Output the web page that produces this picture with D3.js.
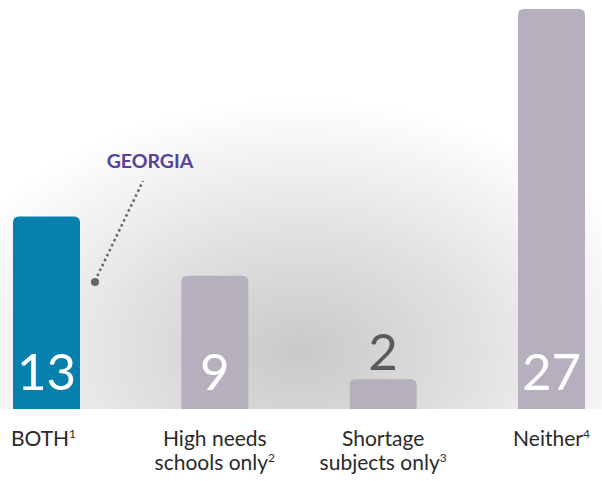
<!DOCTYPE html>
<html><head><meta charset="utf-8">
<script src="https://cdn.jsdelivr.net/npm/d3@7"></script>
<style>html,body{margin:0;padding:0;background:#fff}svg{display:block}</style>
</head><body>
<script>
const categories = ["BOTH", "High needs schools only", "Shortage subjects only", "Neither"];
const labelLines = [["BOTH"], ["High needs", "schools only"], ["Shortage", "subjects only"], ["Neither"]];
const footnotes = ["1", "2", "3", "4"];
const values = [13, 9, 2, 27];
const highlight = "BOTH";
const calloutText = "GEORGIA";

const W = 602, H = 481, baseY = 409;
const svg = d3.select("body").append("svg").attr("width", W).attr("height", H);
const defs = svg.append("defs");
const grad = defs.append("radialGradient").attr("id", "bg")
  .attr("cx", 0.5).attr("cy", 0.86).attr("r", 0.62).attr("fx", 0.5).attr("fy", 0.86);
grad.append("stop").attr("offset", "0").attr("stop-color", "#c9c9c9");
grad.append("stop").attr("offset", "0.45").attr("stop-color", "#e0e0e0");
grad.append("stop").attr("offset", "1").attr("stop-color", "#ffffff");
svg.append("rect").attr("x", 0).attr("y", 0).attr("width", W).attr("height", baseY).attr("fill", "url(#bg)");

const x = d3.scaleBand().domain(categories).range([13, 585]).paddingInner(0.602).paddingOuter(0);
const y = d3.scaleLinear().domain([0, 27]).range([baseY, 9]);

function barPath(x0, y0, w, yb, r) {
  return `M${x0},${yb}V${y0 + r}Q${x0},${y0} ${x0 + r},${y0}H${x0 + w - r}Q${x0 + w},${y0} ${x0 + w},${y0 + r}V${yb}Z`;
}
const font = "Lato, 'Open Sans', sans-serif";

categories.forEach((c, i) => {
  const x0 = x(c), w = x.bandwidth(), y0 = y(values[i]);
  svg.append("path").attr("d", barPath(x0, y0, w, baseY, 6))
    .attr("fill", c === highlight ? "#0880ad" : "#b6afbe");
  const inside = (baseY - y0) > 60;
  svg.append("text").attr("x", x0 + w / 2).attr("y", inside ? 390 : y0 - 9)
    .attr("text-anchor", "middle").attr("font-family", font).attr("font-size", 51)
    .attr("fill", inside ? "#ffffff" : "#5a5a5a").text(values[i]);
  const lines = labelLines[i];
  lines.forEach((ln, j) => {
    const t = svg.append("text").attr("x", x0 + w / 2 - (i === 0 ? 3 : 0)).attr("y", 446 + j * 24)
      .attr("text-anchor", "middle").attr("font-family", font).attr("font-size", 21)
      .attr("fill", "#2a2a2a");
    t.append("tspan").text(ln);
    if (j === lines.length - 1) {
      t.append("tspan").attr("font-size", 12).attr("dy", -8).text(footnotes[i]);
    }
  });
});

// callout
const bx = x(highlight) + x.bandwidth();
svg.append("line").attr("x1", bx + 15).attr("y1", 281).attr("x2", bx + 63).attr("y2", 181)
  .attr("stroke", "#666").attr("stroke-width", 2.5).attr("stroke-dasharray", "2.5,3");
svg.append("circle").attr("cx", bx + 15).attr("cy", 282).attr("r", 4).attr("fill", "#666");
svg.append("text").attr("x", bx + 70).attr("y", 168).attr("text-anchor", "middle")
  .attr("font-family", font).attr("font-weight", "bold").attr("font-size", 19.5)
  .attr("fill", "#57419a").text(calloutText);
</script>
</body></html>
